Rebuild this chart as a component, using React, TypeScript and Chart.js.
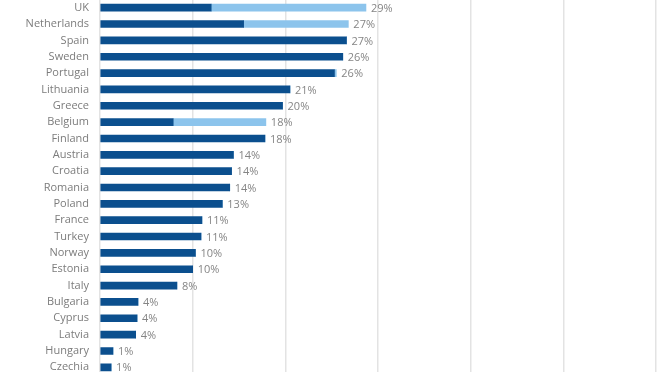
import React, { useEffect, useRef } from "react";
import { Chart, registerables } from "chart.js";

Chart.register(...registerables);

const countries = [
  "UK", "Netherlands", "Spain", "Sweden", "Portugal", "Lithuania", "Greece", "Belgium",
  "Finland", "Austria", "Croatia", "Romania", "Poland", "France", "Turkey", "Norway",
  "Estonia", "Italy", "Bulgaria", "Cyprus", "Latvia", "Hungary", "Czechia",
];
const darkValues = [
  12.0, 15.5, 26.6, 26.2, 25.3, 20.5, 19.7, 7.9,
  17.8, 14.4, 14.2, 14.0, 13.2, 11.0, 10.9, 10.3,
  10.0, 8.3, 4.1, 4.0, 3.85, 1.4, 1.2,
];
const lightValues = [
  16.7, 11.3, 0, 0, 0.2, 0, 0, 10.0,
  0, 0, 0, 0, 0, 0, 0, 0,
  0, 0, 0, 0, 0, 0, 0,
];
const xTicks = [0, 10, 20, 30, 40, 50, 60];

const DARK = "#0b4f8e";
const LIGHT = "#8cc4ec";
const FONT = "'Open Sans', sans-serif";

const valueLabels = {
  id: "valueLabels",
  afterDatasetsDraw(chart: any) {
    const ctx = chart.ctx;
    const meta = chart.getDatasetMeta(1);
    ctx.save();
    ctx.font = `11px ${FONT}`;
    ctx.fillStyle = "#858585";
    ctx.textAlign = "left";
    ctx.textBaseline = "middle";
    meta.data.forEach((el: any, i: number) => {
      const total = darkValues[i] + lightValues[i];
      ctx.fillText(`${Math.round(total)}%`, el.x + 5, el.y + 1);
    });
    ctx.restore();
  },
};

export default function App() {
  const ref = useRef<HTMLCanvasElement>(null);
  useEffect(() => {
    if (!ref.current) return;
    const chart = new Chart(ref.current, {
      type: "bar",
      data: {
        labels: countries,
        datasets: [
          { data: darkValues, backgroundColor: DARK, barThickness: 7, borderWidth: 0 },
          { data: lightValues, backgroundColor: LIGHT, barThickness: 7, borderWidth: 0 },
        ],
      },
      options: {
        indexAxis: "y",
        responsive: false,
        animation: false,
        layout: { padding: { top: 9.5, bottom: 6.5, left: 0, right: 16 } },
        plugins: { legend: { display: false }, tooltip: { enabled: false } },
        scales: {
          x: {
            stacked: true,
            min: xTicks[0],
            max: xTicks[xTicks.length - 1],
            afterBuildTicks: (scale: any) => {
              scale.ticks = xTicks.map((v) => ({ value: v }));
            },
            afterFit: (scale: any) => {
              scale.height = 0;
              scale.paddingLeft = 0;
              scale.paddingRight = 0;
            },
            ticks: { display: false },
            grid: { color: "#e3e3e3", lineWidth: 1.5, drawTicks: false },
            border: { display: false },
          },
          y: {
            stacked: true,
            afterFit: (scale: any) => {
              scale.width = 100;
              scale.paddingTop = 0;
              scale.paddingBottom = 0;
            },
            ticks: { padding: 11, color: "#7c7c7c", font: { family: FONT, size: 11 } },
            grid: { display: false, drawTicks: false },
            border: { display: false },
          },
        },
      },
      plugins: [valueLabels],
    });
    return () => chart.destroy();
  }, []);
  return (
    <div style={{ position: "fixed", left: 0, top: 0, width: 672, height: 372, overflow: "hidden", background: "#fff" }}>
      <canvas ref={ref} width={672} height={392} style={{ position: "absolute", left: 0, top: -10 }} />
    </div>
  );
}
